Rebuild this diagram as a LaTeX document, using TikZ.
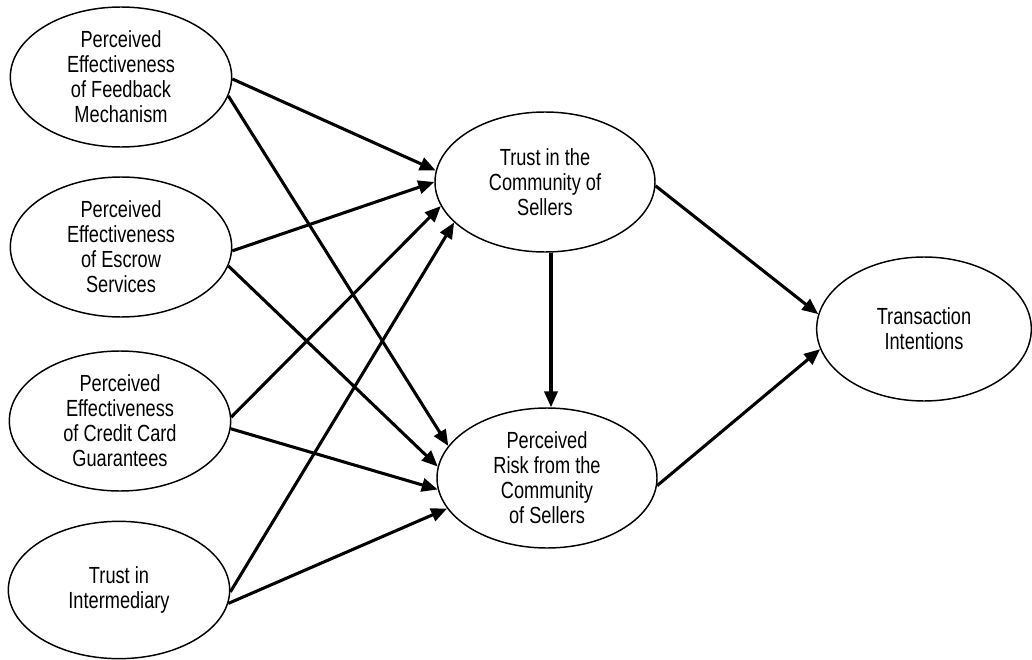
\documentclass[tikz,border=0pt]{standalone}
\usepackage{fontspec}
\setmainfont{Liberation Sans}[FakeStretch=0.78]
\usetikzlibrary{shapes.geometric,arrows.meta}
\begin{document}
\begin{tikzpicture}[x=0.75pt,y=-0.75pt,
  construct/.style={ellipse,draw,line width=1.1pt,inner sep=0pt,
    minimum width=166pt,minimum height=105pt,align=center,
    font=\fontsize{17.5}{18.75}\selectfont},
  conn/.style={line width=2.3pt,-{Triangle[length=12pt,width=10pt]}}]
\useasboundingbox (0,0) rectangle (1032,660);

% antecedents
\node[construct] (fb) at (121,77) {Perceived\\Effectiveness\\of Feedback\\Mechanism};
\node[construct] (es) at (121,247) {Perceived\\Effectiveness\\of Escrow\\Services};
\node[construct] (cc) at (120,421) {Perceived\\Effectiveness\\of Credit Card\\Guarantees};
\node[construct,minimum height=103pt] (im) at (119,590) {Trust in\\Intermediary};

% mediators
\node[construct,minimum width=165pt] (tc) at (545,182) {Trust in the\\Community of\\Sellers};
\node[construct,minimum width=165pt] (pr) at (547,478) {Perceived\\Risk from the\\Community\\of Sellers};

% outcome
\node[construct,minimum width=161pt,minimum height=108pt] (ti) at (924,329) {Transaction\\Intentions};

% paths into trust
\draw[conn] (fb.-1) -- (tc.174);
\draw[conn] (es.-2) -- (tc.180);
\draw[conn] (cc.2) -- (tc.193);
\draw[conn] (im.-1) -- (tc.204);

% paths into perceived risk
\draw[conn] (fb.-10) -- (pr.162);
\draw[conn] (es.-10) -- (pr.174);
\draw[conn] (cc.-4) -- (pr.186);
\draw[conn] (im.-7) -- (pr.197);

% trust to risk
\coordinate (vx) at (551,330);
\draw[conn] (tc.south -| vx) -- (pr.north -| vx);

% paths into intentions
\draw[conn] (tc.-2) -- (ti.172);
\draw[conn] (pr.-4) -- (ti.191);
\end{tikzpicture}
\end{document}
